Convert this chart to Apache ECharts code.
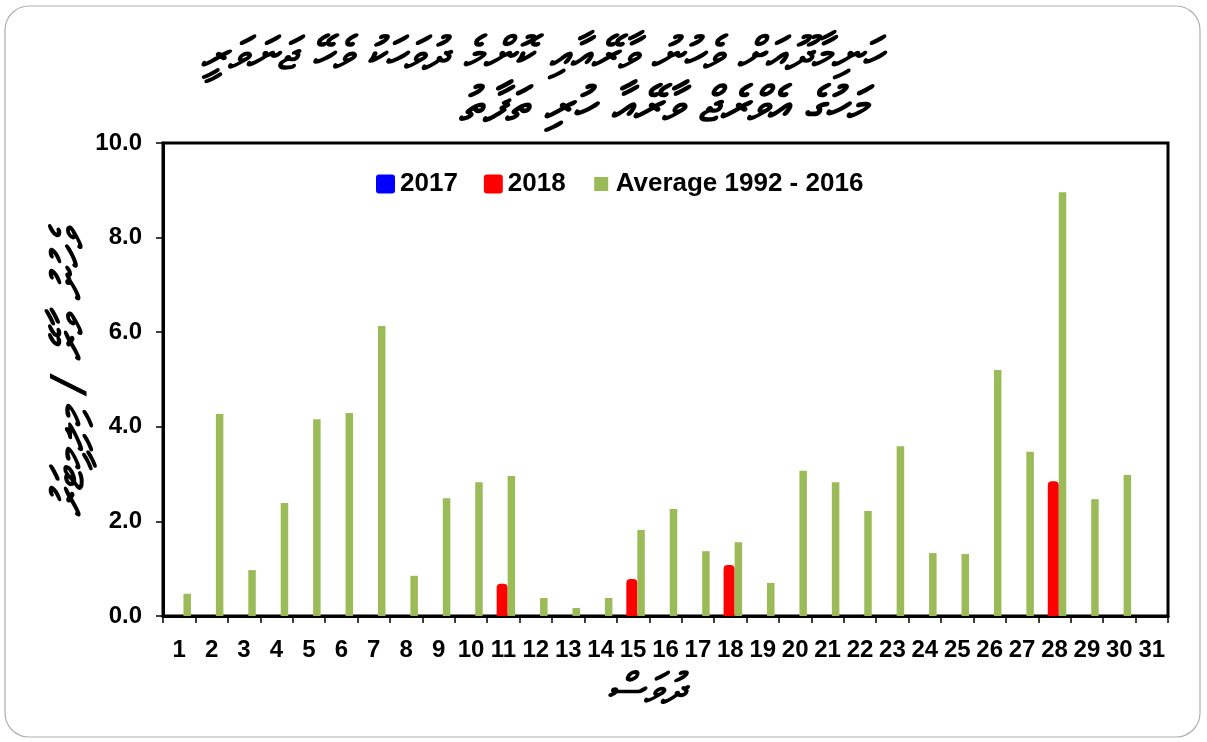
<!DOCTYPE html>
<html>
<head>
<meta charset="utf-8">
<script src="https://cdn.jsdelivr.net/npm/echarts@6/dist/echarts.min.js"></script>
<style>
  html, body { margin: 0; padding: 0; background: #fff; }
  #chart { width: 1207px; height: 742px; }
</style>
</head>
<body>
<div id="chart"></div>
<script>
// ---- data ----
const titleLine1 = 'ހަނިމާދޫއަށް ވެހުނު ވާރޭއާއި ކޮންމެ ދުވަހަކު ވެހޭ ޖަނަވަރީ';
const titleLine2 = 'މަހުގެ އެވްރެޖް ވާރޭއާ ހުރި ތަފާތު';
const yAxisName = 'ވެހުނު ވާރޭ / މިލިމީޓަރު';
const xAxisName = 'ދުވަސް';
const days = ['1','2','3','4','5','6','7','8','9','10','11','12','13','14','15','16','17','18','19','20','21','22','23','24','25','26','27','28','29','30','31'];
const series2017 = [0,0,0,0,0,0,0,0,0,0,0,0,0,0,0,0,0,0,0,0,0,0,0,0,0,0,0,0,0,0,0];
const series2018 = [0,0,0,0,0,0,0,0,0,0,0.68,0,0,0,0.78,0,0,1.08,0,0,0,0,0,0,0,0,0,2.85,0,0,0];
const seriesAvg  = [0.47,4.27,0.97,2.39,4.16,4.29,6.13,0.85,2.49,2.83,2.96,0.38,0.17,0.38,1.82,2.26,1.37,1.56,0.70,3.07,2.83,2.22,3.59,1.33,1.31,5.20,3.47,8.96,2.47,2.98,0];
const yTicks = ['0.0','2.0','4.0','6.0','8.0','10.0'];
const legendNames = ['2017','2018','Average 1992 - 2016'];

const FONT = '"Liberation Sans", Arial, sans-serif';
const TFONT = '"DejaVu Sans", "Noto Sans", sans-serif';
const RR = 'path://M3,0 H16 Q19,0 19,3 V16 Q19,19 16,19 H3 Q0,19 0,16 V3 Q0,0 3,0 Z';
const SQ = 'path://M0,0 M19,19 M2.5,2.5 H16.5 V16.5 H2.5 Z';
const chart = echarts.init(document.getElementById('chart'), null, {renderer: 'canvas'});

chart.setOption({
  animation: false,
  backgroundColor: '#fff',
  graphic: [
    { type: 'rect', shape: { x: 5, y: 6, width: 1195, height: 731, r: 24 },
      style: { fill: 'none', stroke: '#b0b0b0', lineWidth: 1.2 }, z: -10 },
    { type: 'text', x: 882, y: 57,
      style: { text: titleLine1, textAlign: 'right', textVerticalAlign: 'middle',
               font: 'italic bold 45px ' + TFONT, fill: '#000' } },
    { type: 'text', x: 866, y: 109,
      style: { text: titleLine2, textAlign: 'right', textVerticalAlign: 'middle',
               font: 'italic bold 48px ' + TFONT, fill: '#000' } },
    { type: 'text', x: 72, y: 374, rotation: Math.PI / 2,
      style: { text: yAxisName, textAlign: 'center', textVerticalAlign: 'middle',
               font: 'italic bold 44px ' + TFONT, fill: '#000' } },
    { type: 'text', x: 645, y: 692,
      style: { text: xAxisName, textAlign: 'center', textVerticalAlign: 'middle',
               font: 'italic bold 42px ' + TFONT, fill: '#000' } }
  ],
  legend: {
    data: [
      { name: legendNames[0], icon: RR },
      { name: legendNames[1], icon: RR },
      { name: legendNames[2], icon: SQ }
    ],
    left: 371, top: 166,
    itemWidth: 19, itemHeight: 19, itemGap: 26,
    textStyle: { fontFamily: FONT, fontWeight: 'bold', fontSize: 26, color: '#000' }
  },
  grid: {
    left: 163, right: 39, top: 143, bottom: 126,
    show: true, borderColor: '#000', borderWidth: 3, backgroundColor: 'transparent'
  },
  xAxis: {
    type: 'category',
    data: days,
    boundaryGap: true,
    axisLine: { show: true, lineStyle: { color: '#000', width: 3 } },
    axisTick: { show: true, length: 7, lineStyle: { color: '#000', width: 1.5 } },
    axisLabel: { interval: 0, margin: 22, fontFamily: FONT, fontWeight: 'bold', fontSize: 24, color: '#000' },
    splitLine: { show: false }
  },
  yAxis: {
    type: 'value',
    min: 0, max: 10, interval: 2,
    axisLine: { show: true, lineStyle: { color: '#000', width: 3 } },
    axisTick: { show: true, length: 7, lineStyle: { color: '#000', width: 1.5 } },
    axisLabel: { margin: 21, fontFamily: FONT, fontWeight: 'bold', fontSize: 24, color: '#000',
                 formatter: function (v) { return yTicks[Math.round(v / 2)]; } },
    splitLine: { show: false }
  },
  series: [
    { name: legendNames[0], type: 'bar', data: series2017, barWidth: 5, barGap: '0%',
      itemStyle: { color: '#0000FF', borderRadius: [4, 4, 0, 0] } },
    { name: legendNames[1], type: 'bar', data: series2018, barWidth: 11, barGap: '0%',
      itemStyle: { color: '#FF0000', borderRadius: [4, 4, 0, 0] } },
    { name: legendNames[2], type: 'bar', data: seriesAvg, barWidth: 7.5, barGap: '0%',
      itemStyle: { color: '#9BBB59' } }
  ]
});
</script>
</body>
</html>
